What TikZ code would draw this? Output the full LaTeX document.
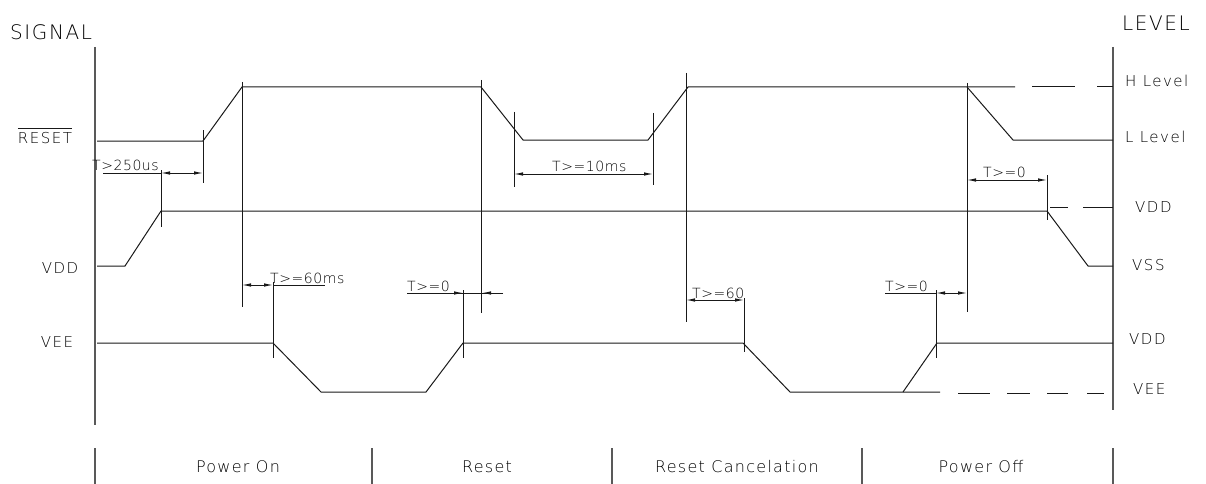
\documentclass[tikz,border=0pt]{standalone}
\usepackage{fontspec}
\setmainfont{DejaVu Sans ExtraLight}
\usetikzlibrary{arrows.meta}
\begin{document}
\begin{tikzpicture}[x=1pt,y=-1pt,
  axis/.style={line width=1.3pt, black!65},
  sig/.style={line width=1pt, black!90},
  tick/.style={line width=1pt, black!90},
  dline/.style={line width=0.9pt, black!90},
  dimboth/.style={dline, {Latex[length=9pt,width=3.5pt]}-{Latex[length=9pt,width=3.5pt]}},
  dimto/.style={dline, -{Latex[length=9pt,width=3.5pt]}},
  lab/.style={inner sep=0pt, font=\fontsize{15}{15}\selectfont\addfontfeatures{LetterSpace=10}},
  big/.style={inner sep=0pt, font=\fontsize{20}{20}\selectfont\addfontfeatures{LetterSpace=8}},
  dimtxt/.style={inner sep=0pt, anchor=base west, font=\fontsize{14}{14}\selectfont\addfontfeatures{LetterSpace=4}},
  phase/.style={inner sep=0pt, font=\fontsize{16}{16}\selectfont\addfontfeatures{LetterSpace=8}}
]
\useasboundingbox (0,0) rectangle (1206,484);

% titles
\node[big, anchor=west] (tsig) at (10,32) {SIGNAL};
\node[big, anchor=west] (tlev) at (1122,23) {LEVEL};

% axes
\draw[axis] (95,47) -- (95,425);
\draw[axis] (1113,47) -- (1113,410);

% left labels
\node[lab] (lrst) at (45,138) {RESET};
\draw[dline] ([yshift=4pt]lrst.north west) -- ([yshift=4pt]lrst.north east);
\node[lab] (lvdd) at (60,268) {VDD};
\node[lab] (lvee) at (57,342) {VEE};

% right labels
\node[lab, anchor=west] (rh) at (1125,81) {H Level};
\node[lab, anchor=west] (rl) at (1125,137) {L Level};
\node[lab, anchor=west] (rvdd1) at (1135,207) {VDD};
\node[lab, anchor=west] (rvss) at (1132,265) {VSS};
\node[lab, anchor=west] (rvdd2) at (1129,339) {VDD};
\node[lab, anchor=west] (rvee) at (1133,389) {VEE};

% RESET signal
\draw[sig] (97,141) -- (203,141) -- (242,87) -- (481,87) -- (523,140) -- (648,140)
  -- (688,87) -- (1015,87);
\draw[sig] (967,87) -- (1013,140) -- (1113,140);
\draw[sig] (1032,87) -- (1075,87);
\draw[sig] (1097,87) -- (1113,87);

% VDD signal
\draw[sig] (97,266) -- (125,266) -- (161,211) -- (1047,211) -- (1088,266) -- (1113,266);
\draw[sig] (1050,207) -- (1068,207);
\draw[sig] (1083,207) -- (1113,207);

% VEE signal
\draw[sig] (97,343) -- (273,343) -- (321,392) -- (426,392) -- (463,343) -- (743,343)
  -- (790,392) -- (940,392);
\draw[sig] (903,392) -- (937,343) -- (1113,343);
\foreach \a/\b in {958/990,1007/1030,1047/1068,1087/1104}
  \draw[sig] (\a,393) -- (\b,393);

% timing ticks
\draw[tick] (161,170) -- (161,227);
\draw[tick] (203,130) -- (203,183);
\draw[tick] (242,82) -- (242,307);
\draw[tick] (273,282) -- (273,358);
\draw[tick] (463,290) -- (463,358);
\draw[tick] (481,80) -- (481,313);
\draw[tick] (514,112) -- (514,187);
\draw[tick] (653,113) -- (653,185);
\draw[tick] (686,73) -- (686,322);
\draw[tick] (744,298) -- (744,352);
\draw[tick] (936,290) -- (936,358);
\draw[tick] (967,83) -- (967,312);
\draw[tick] (1047,175) -- (1047,220);

% dimensions
\node[dimtxt] (d1) at (92,170) {T>250us};
\draw[dline] (103,173) -- (161,173);
\draw[dimboth] (161,173) -- (203,173);

\node[dimtxt] (d2) at (270,283) {T>=60ms};
\draw[dimboth] (242,285) -- (273,285);
\draw[dline] (273,285) -- (325,285);

\node[dimtxt] (d3) at (407,291) {T>=0};
\draw[dline] (407,293) -- (503,293);
\draw[dimto] (440,293) -- (463,293);
\draw[dimto] (503,293) -- (482,293);

\node[dimtxt] (d4) at (552,171) {T>=10ms};
\draw[dimboth] (514,174) -- (653,174);

\node[dimtxt] (d5) at (692,298) {T>=60};
\draw[dimboth] (686,300) -- (744,300);

\node[dimtxt] (d6) at (885,291) {T>=0};
\draw[dline] (885,293) -- (936,293);
\draw[dimboth] (936,293) -- (967,293);

\node[dimtxt] (d7) at (983,177) {T>=0};
\draw[dimboth] (967,180) -- (1047,180);

% phases
\foreach \x in {95,372,612,862,1113}
  \draw[axis] (\x,448) -- (\x,484);
\node[phase] (p1) at (238,467) {Power On};
\node[phase] (p2) at (487,467) {Reset};
\node[phase] (p3) at (737,467) {Reset Cancelation};
\node[phase] (p4) at (981,467) {Power Off};
\end{tikzpicture}
\end{document}
